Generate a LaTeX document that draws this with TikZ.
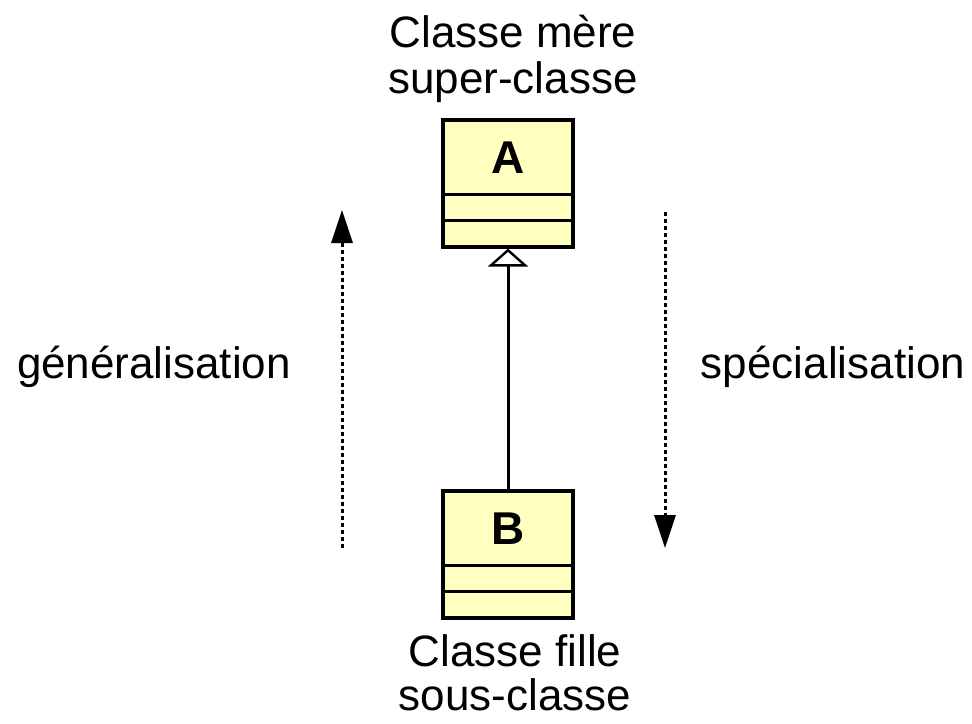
\documentclass[tikz,border=0pt]{standalone}
\usepackage{fontspec}
\setmainfont{Liberation Sans}
\usetikzlibrary{arrows.meta}
\definecolor{umlfill}{RGB}{255,255,192}
\begin{document}
\begin{tikzpicture}[x=1pt,y=-1pt,
  umlbox/.style={draw=black,line width=3.2pt,fill=umlfill,minimum width=130pt,minimum height=127pt,inner sep=0pt},
  sep/.style={line width=3pt},
  lbl/.style={font=\fontsize{44}{46}\selectfont,align=center,inner sep=0pt},
  cls/.style={font=\fontsize{46}{50}\selectfont\bfseries,inner sep=0pt},
  gen/.style={line width=3pt,dash pattern=on 4pt off 3pt,-{Triangle[length=33pt,width=21pt]},shorten >=0pt},
  inherit/.style={line width=3pt,-{Triangle[length=18pt,width=40pt,fill=white,line width=2.4pt]}}
]
\useasboundingbox (0,0) rectangle (972,723);
% class A
\node[umlbox] (A) at (508,183.5) {};
\draw[sep] ([yshift=-76pt]A.north west) -- ([yshift=-76pt]A.north east);
\draw[sep] ([yshift=-102pt]A.north west) -- ([yshift=-102pt]A.north east);
\node[cls,anchor=base] (Aname) at (508,173) {A};
% class B
\node[umlbox] (B) at (508,554.5) {};
\draw[sep] ([yshift=-76pt]B.north west) -- ([yshift=-76pt]B.north east);
\draw[sep] ([yshift=-102pt]B.north west) -- ([yshift=-102pt]B.north east);
\node[cls,anchor=base] (Bname) at (508,544) {B};
% inheritance
\draw[inherit] (B.north) -- (A.south);
% labels
\node[lbl] (topl) at (513,59) {Classe mère\\super-classe};
\node[lbl,font=\fontsize{44}{44}\selectfont] (botl) at (515,673) {Classe fille\\sous-classe};
\node[lbl,anchor=base] (genl) at (154,378) {généralisation};
\node[lbl,anchor=base] (specl) at (833,378) {spécialisation};
% dotted arrows
\coordinate (g1) at (342,548);
\coordinate (g2) at (342,210);
\coordinate (s1) at (665,212);
\coordinate (s2) at (665,548);
\draw[gen] (g1) -- (g2);
\draw[gen] (s1) -- (s2);
\end{tikzpicture}
\end{document}
